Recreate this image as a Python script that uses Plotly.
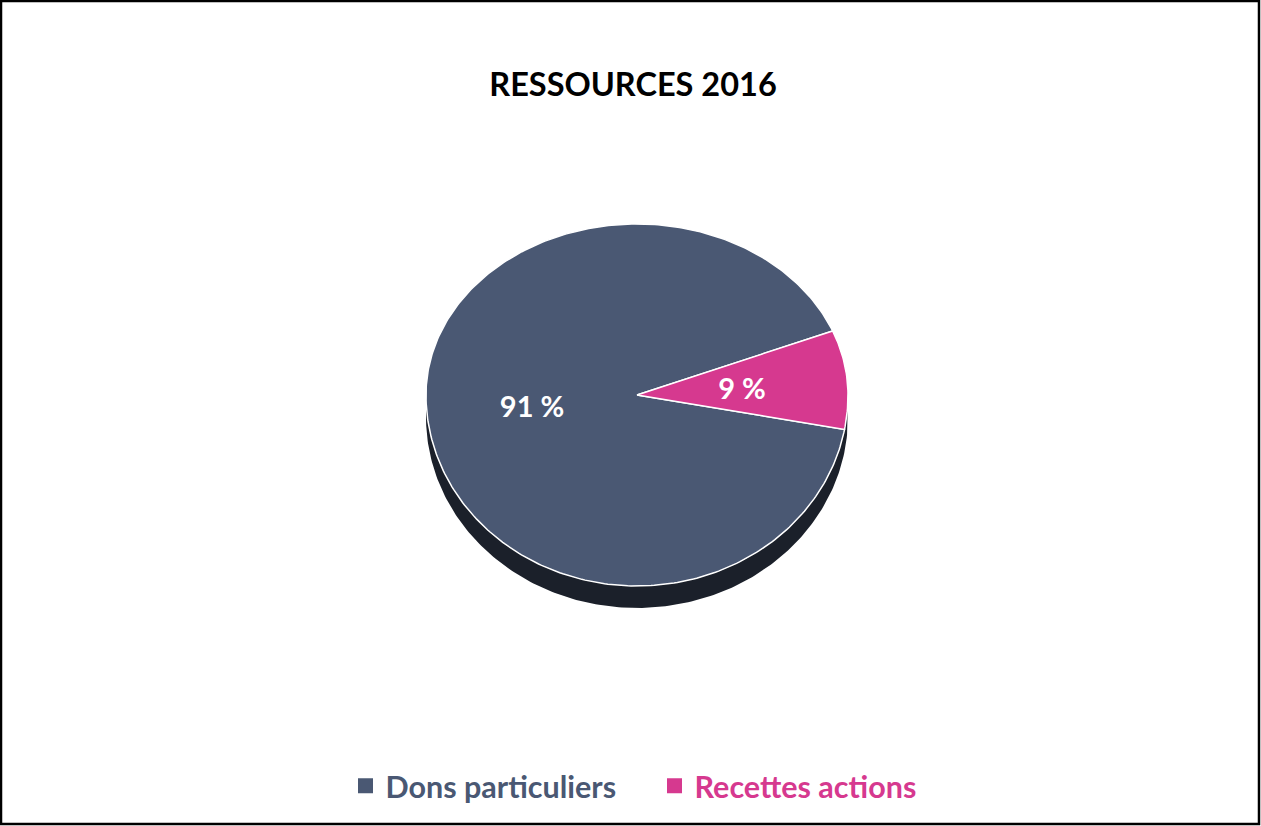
import numpy as np
import plotly.graph_objects as go

# ---- data ----
categories = ["Dons particuliers", "Recettes actions"]
values = [91, 9]
labels = ["91 %", "9 %"]
colors = ["#4A5873", "#D6398F"]
title_text = "RESSOURCES 2016"

# ---- geometry (pixel space) ----
W, H = 1261, 826
cx, cy = 637, 395
rx, ry_top, ry_bot = 211, 171, 191
depth = 22
start_deg = 22.0          # first slice starts here, counterclockwise
label_dy = 5
FONT = "Lato"
SIDE = "#1B202A"


def pt(t):
    x = cx + rx * np.cos(t)
    s = np.sin(t)
    y = cy - np.where(s > 0, ry_top, ry_bot) * s
    return x, y


fig = go.Figure()

# side wall (lower half of ellipse, extruded down)
t = np.linspace(np.pi, 2 * np.pi, 200)
xs, ys = pt(t)
fig.add_trace(go.Scatter(
    x=np.concatenate([xs, xs[::-1]]),
    y=np.concatenate([ys, ys[::-1] + depth]),
    fill="toself", fillcolor=SIDE, mode="lines", line=dict(width=0, color=SIDE),
    hoverinfo="skip", showlegend=False))

total = float(sum(values))
a0 = np.deg2rad(start_deg)
label_x, label_y = [], []
for cat, v, c in zip(categories, values, colors):
    span = 2 * np.pi * v / total
    tt = np.linspace(a0, a0 + span, max(int(400 * v / total), 20))
    px, py = pt(tt)
    fig.add_trace(go.Scatter(
        x=np.concatenate([[cx], px, [cx]]),
        y=np.concatenate([[cy], py, [cy]]),
        fill="toself", fillcolor=c, mode="lines",
        line=dict(width=1.5, color="white"),
        name=cat, hoverinfo="name", showlegend=False))
    mid = a0 + span / 2
    mx = cx + 0.5 * rx * np.cos(mid)
    s = np.sin(mid)
    my = cy - 0.5 * (ry_top if s > 0 else ry_bot) * s + label_dy
    label_x.append(mx)
    label_y.append(my)
    a0 += span

fig.add_trace(go.Scatter(
    x=label_x, y=label_y, mode="text", text=labels,
    textfont=dict(family=FONT, size=29, color="white", weight="bold"),
    hoverinfo="skip", showlegend=False))

# legend entries
for cat, c in zip(categories, colors):
    fig.add_trace(go.Scatter(
        x=[None], y=[None], mode="markers",
        marker=dict(symbol="square", size=15, color=c),
        name=f"<span style='color:{c}'>{cat}</span>"))

fig.update_layout(
    width=W, height=H,
    margin=dict(l=0, r=0, t=0, b=0),
    paper_bgcolor="white", plot_bgcolor="white",
    xaxis=dict(range=[0, W], visible=False, fixedrange=True),
    yaxis=dict(range=[H, 0], visible=False, fixedrange=True),
    title=dict(text=title_text, x=633 / W, y=1 - 85 / H,
               xanchor="center", yanchor="middle",
               font=dict(family=FONT, size=32.5, color="black", weight="bold")),
    legend=dict(orientation="h", x=0.5 + 24 / W, xanchor="center",
                y=1 - 786 / H, yanchor="middle",
                entrywidth=264, entrywidthmode="pixels",
                font=dict(family=FONT, size=30.5, weight="bold"),
                bgcolor="rgba(0,0,0,0)", itemclick=False, itemdoubleclick=False),
    shapes=[dict(type="rect", xref="x", yref="y", x0=1, y0=1, x1=W - 2, y1=H - 2,
                 line=dict(color="black", width=2.5), fillcolor="rgba(0,0,0,0)",
                 layer="above")],
)

fig.write_html("out.html", config={"displayModeBar": False})
with open("out.html", "r", encoding="utf-8") as f:
    html = f.read()
html = html.replace("<head>", "<head><style>html,body{margin:0;padding:0;overflow:hidden}</style>", 1)
with open("out.html", "w", encoding="utf-8") as f:
    f.write(html)
